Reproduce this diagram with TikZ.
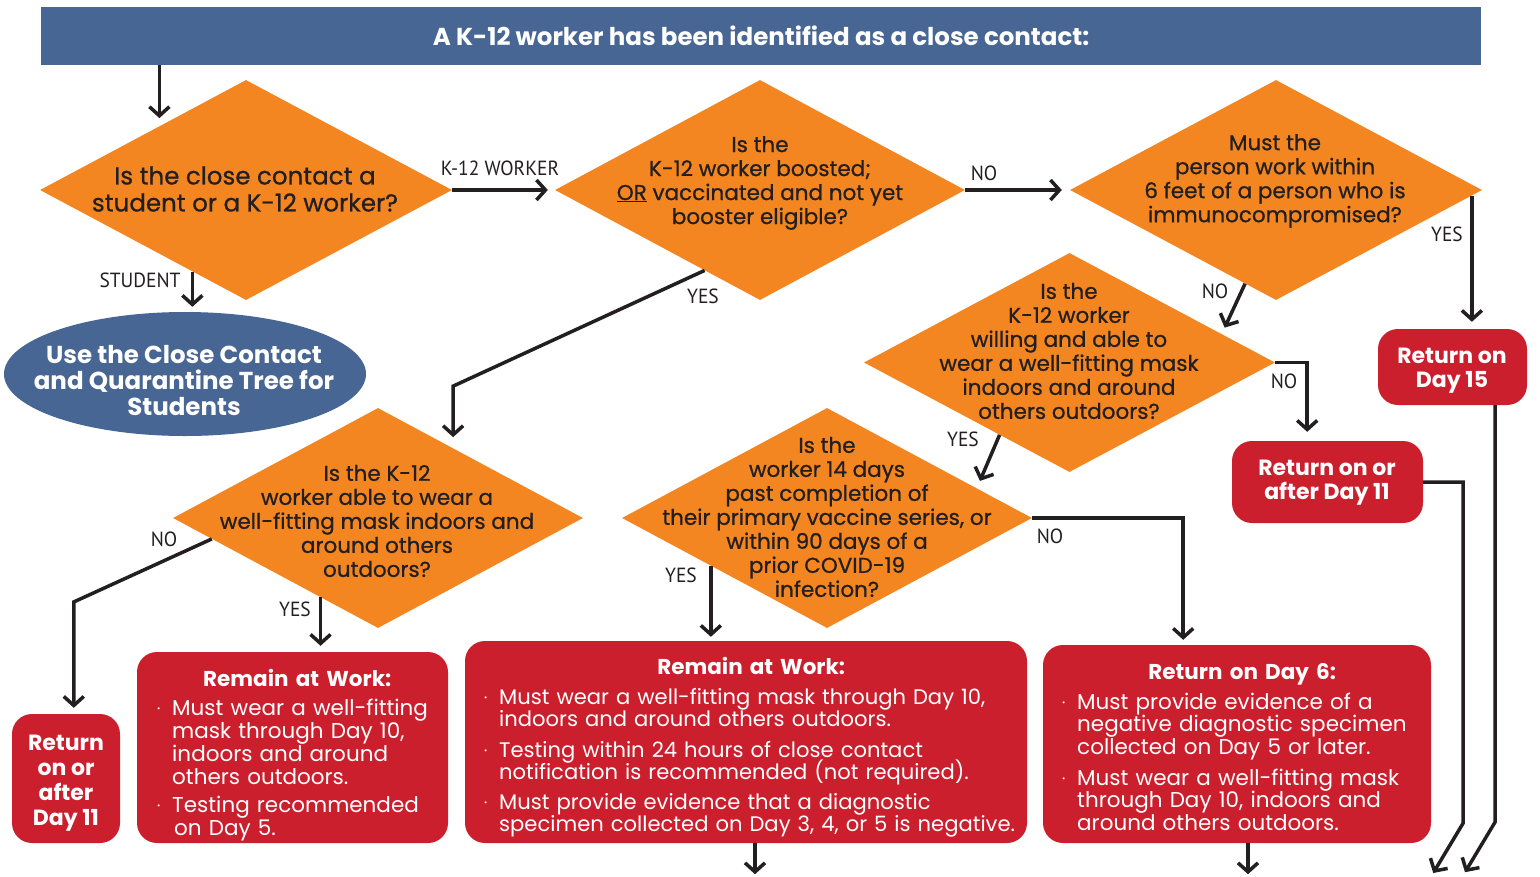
\documentclass[tikz,border=0pt]{standalone}
\usepackage{fontspec}
\setmainfont{Poppins}
\newfontfamily\medfont{Poppins}[FakeBold=0.8]
\newfontfamily\lblfont{PT Sans}[FakeStretch=0.95]
\usetikzlibrary{shapes.geometric,arrows.meta,calc}
\definecolor{hdrblue}{HTML}{476694}
\definecolor{qorange}{HTML}{F48621}
\definecolor{rred}{HTML}{CB1F2E}
\definecolor{ink}{HTML}{231F20}
\newcommand\nl{\hfil\break}
\newcommand\boxsetup{\lineskiplimit=-50pt\relax\hyphenpenalty=10000\relax}
\newcommand\bitem[1]{\par\hangindent=15pt\hangafter=1\noindent\makebox[15pt][l]{\raisebox{0.35ex}{\fontsize{8}{8}\selectfont\textbullet}}#1\par}
\newcommand\btitle[2]{\noindent\makebox[#1]{\bfseries #2}\par}
\begin{document}
\begin{tikzpicture}[x=1pt,y=-1pt,
  dia/.style={diamond, fill=qorange, inner sep=0pt, draw=none},
  qtext/.style={align=center, text=ink, inner sep=0pt, font=\medfont\fontsize{21.5}{24}\selectfont},
  conn/.style={draw=ink, line width=3.5pt, -{Straight Barb[length=9pt,width=20pt]}},
  lbl/.style={font=\lblfont\fontsize{20.5}{20.5}\selectfont, text=ink, inner sep=0pt},
  redbox/.style={rectangle, rounded corners=20pt, fill=rred, text=white, inner sep=0pt, align=center, font=\bfseries\fontsize{22}{24}\selectfont},
  redtext/.style={text=white, inner sep=0pt, align=center, font=\bfseries\fontsize{22}{24}\selectfont},
  boxtext/.style={anchor=north west, inner sep=0pt, text=white, font=\fontsize{21.5}{22.5}\selectfont}
]
\useasboundingbox (0,0) rectangle (1540,876);
\fill[white] (0,0) rectangle (1540,876);

% header
\node[rectangle, fill=hdrblue, minimum width=1440pt, minimum height=58pt, inner sep=0pt, text=white, font=\bfseries\fontsize{24.5}{26}\selectfont] (hdr) at (761,36) {A K-12 worker has been identified as a close contact:};

% diamonds
\node[dia, minimum width=412pt, minimum height=220pt] (d1) at (246,190) {};
\node[qtext, font=\medfont\fontsize{24.5}{27}\selectfont] (d1t) at (245,189) {Is the close contact a\\student or a K-12 worker?};

\node[dia, minimum width=410pt, minimum height=220pt] (d2) at (760,190) {};
\node[qtext] (d2t) at (760,183) {Is the\\K-12 worker boosted;\\\underline{OR} vaccinated and not yet\\booster eligible?};

\node[dia, minimum width=412pt, minimum height=220pt] (d3) at (1276,190) {};
\node[qtext] (d3t) at (1275,181) {Must the\\person work within\\6 feet of a person who is\\immunocompromised?};

\node[dia, minimum width=411pt, minimum height=219pt] (d4) at (1069.5,362.5) {};
\node[qtext] (d4t) at (1069,351) {Is the\\K-12 worker\\willing and able to\\wear a well-fitting mask\\indoors and around\\others outdoors?};

\node[dia, minimum width=410pt, minimum height=220pt] (d5) at (827,518) {};
\node[qtext] (d5t) at (827,517) {Is the\\worker 14 days\\past completion of\\their primary vaccine series, or\\within 90 days of a\\prior COVID-19\\infection?};

\node[dia, minimum width=410pt, minimum height=220pt] (d6) at (378,518) {};
\node[qtext] (d6t) at (377,521) {Is the K-12\\worker able to wear a\\well-fitting mask indoors and\\around others\\outdoors?};

% ellipse
\node[ellipse, fill=hdrblue, minimum width=362pt, minimum height=124pt, inner sep=0pt] (stu) at (185,374) {};
\node[align=center, text=white, inner sep=0pt, font=\bfseries\fontsize{24.5}{26}\selectfont] (stut) at (184,381) {Use the Close Contact\\and Quarantine Tree for\\Students};

% red boxes
\node[redbox, minimum width=149pt, minimum height=76pt] (r15) at (1452.5,367) {};
\node[redtext] (r15t) at (1452,371) {Return on\\Day 15};
\node[redbox, minimum width=191pt, minimum height=82pt] (r11a) at (1327.5,482) {};
\node[redtext] (r11at) at (1327,483) {Return on or\\after Day 11};
\node[redbox, minimum width=108pt, minimum height=129pt] (r11b) at (66,778.5) {};
\node[redtext, font=\bfseries\fontsize{22}{25}\selectfont] (r11bt) at (66,783) {Return\\on or\\after\\Day 11};
\node[redbox, minimum width=311pt, minimum height=191pt] (rw1) at (292.5,747.5) {};
\node[redbox, minimum width=562pt, minimum height=202pt] (rw2) at (746,742) {};
\node[redbox, minimum width=388pt, minimum height=198pt] (r6) at (1237,744) {};

\node[boxtext, text width=300pt, font=\fontsize{21.5}{23}\selectfont] (rw1t) at (157,669) {\boxsetup
  \btitle{280pt}{Remain at Work:}\vspace{6pt}%
  \bitem{Must wear a well-fitting\nl mask through Day 10,\nl indoors and around\nl others outdoors.}\vspace{5pt}%
  \bitem{Testing recommended\nl\hspace*{2pt}on Day 5.}};

\node[boxtext, text width=570pt, font=\fontsize{21.1}{22.5}\selectfont] (rw2t) at (484,657) {\boxsetup
  \btitle{534pt}{\fontsize{21.5}{22.5}\selectfont Remain at Work:}\vspace{7.5pt}%
  \bitem{Must wear a well-fitting mask through Day 10,\nl indoors and around others outdoors.}\vspace{8pt}%
  \bitem{Testing within 24 hours of close contact\nl notification is recommended (not required).}\vspace{7pt}%
  \bitem{Must provide evidence that a diagnostic\nl specimen collected on Day 3, 4, or 5 is negative.}};

\node[boxtext, text width=380pt] (r6t) at (1062,663) {\boxsetup
  \btitle{360pt}{Return on Day 6:}\vspace{7.5pt}%
  \bitem{Must provide evidence of a\nl negative diagnostic specimen\nl collected on Day 5 or later.}\vspace{8.5pt}%
  \bitem{Must wear a well-fitting mask\nl through Day 10, indoors and\nl around others outdoors.}};

% connectors
\coordinate (a0) at ($(d1.west)!0.58!(d1.north)$);
\draw[conn, shorten >=8pt] (hdr.south -| a0) -- (a0);

\draw[conn, shorten >=7pt] (d1.east) -- (d2.west);
\node[lbl] (lk12) at (500,168) {K-12 WORKER};

\coordinate (s1) at ($(d1.west)!0.74!(d1.south)$);
\draw[conn, shorten >=5pt] (s1) -- (s1 |- stu.north);
\node[lbl] (lstu) at (140,280) {STUDENT};

\draw[conn, shorten >=8pt] (d2.east) -- (d3.west);
\node[lbl] (lno1) at (984,173) {NO};

\coordinate (a3) at ($(d3.east)!0.05!(d3.south)$);
\draw[conn, shorten >=7pt] (a3) -- (a3 |- r15.north);
\node[lbl] (lyes1) at (1447,234) {YES};

\coordinate (b3) at ($(d3.west)!0.85!(d3.south)$);
\coordinate (b4) at ($(d4.north)!0.74!(d4.east)$);
\draw[conn, shorten >=7pt] (b3) -- (b4);
\node[lbl] (lno2) at (1215,291) {NO};

\draw[conn, shorten >=9pt] (d4.east) -- ++(32,0) coordinate (c4) -- (c4 |- r11a.north);
\node[lbl] (lno3) at (1284,381) {NO};

\coordinate (e4) at ($(d4.west)!0.66!(d4.south)$);
\coordinate (e5) at ($(d5.north)!0.73!(d5.east)$);
\draw[conn, shorten >=8pt] (e4) -- (e5);
\node[lbl] (lyes2) at (963,439) {YES};

\draw[conn, shorten >=5pt] (d5.east) -- ++(151,0) coordinate (c5) -- (c5 |- r6.north);
\node[lbl] (lno4) at (1050,536) {NO};

\coordinate (f5) at ($(d5.west)!0.434!(d5.south)$);
\draw[conn, shorten >=4pt] (f5) -- (f5 |- rw2.north);
\node[lbl] (lyes3) at (681,575) {YES};

\coordinate (g2) at ($(d2.west)!0.73!(d2.south)$);
\coordinate (g6) at ($(d6.north)!0.366!(d6.east)$);
\path (g6) ++(0,-62) coordinate (g1);
\draw[conn, shorten >=11pt] (g2) -- (g1) -- (g6);
\node[lbl] (lyes4) at (703,296) {YES};

\coordinate (h6) at ($(d6.west)!0.19!(d6.south)$);
\path (h6) ++(-138,63) coordinate (h1);
\draw[conn, shorten >=6pt] (h6) -- (h1) -- (h1 |- r11b.north);
\node[lbl] (lno5) at (164,539) {NO};

\coordinate (k6) at ($(d6.west)!0.72!(d6.south)$);
\draw[conn, shorten >=6pt] (k6) -- (k6 |- rw1.north);
\node[lbl] (lyes5) at (295,609) {YES};

\coordinate (m0) at ($(r15.south)+(42.5,0)$);
\draw[conn] (m0) -- ++(0,417) -- ++(-30,50);
\draw[conn] (r11a.east) -- ++(40,0) -- ++(0,341) -- ++(-30,50);

\coordinate (n2) at ($(rw2.south)+(9,0)$);
\draw[conn] (n2) -- ++(0,31);
\coordinate (n6) at ($(r6.south)+(11,0)$);
\draw[conn] (n6) -- ++(0,31);
\end{tikzpicture}
\end{document}
